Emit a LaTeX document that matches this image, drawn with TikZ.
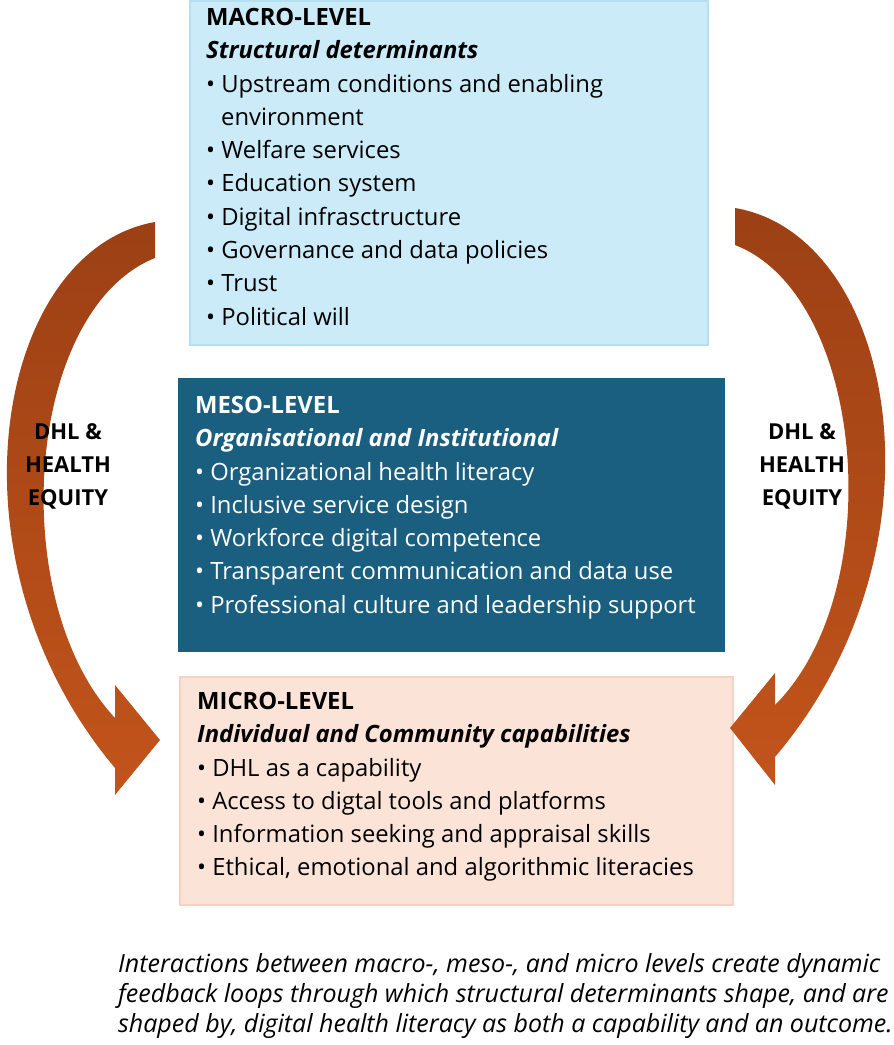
\documentclass[tikz,border=0pt]{standalone}
\usepackage{fontspec}
\setmainfont{Open Sans}
\definecolor{macrof}{HTML}{CBEBF8}
\definecolor{macrod}{HTML}{B5E0F2}
\definecolor{mesof}{HTML}{1A5F7F}
\definecolor{microf}{HTML}{FBE3D8}
\definecolor{microd}{HTML}{F6D2C2}
\definecolor{arrtop}{HTML}{9C4015}
\definecolor{arrbot}{HTML}{C2541B}
\begin{document}
\begin{tikzpicture}[x=1pt,y=-1pt,
  txt/.style={anchor=north west,align=left,inner sep=0pt,font=\fontsize{23.8}{33.3}\selectfont},
  lab/.style={align=center,font=\bfseries\fontsize{22}{33}\selectfont},
  band/.style={top color=arrtop,bottom color=arrbot,draw=none}]
\useasboundingbox (0,0) rectangle (894,1045);
\fill[macrof,draw=macrod,line width=1.5pt] (190,1) rectangle (708,345);
\fill[mesof] (178,378) rectangle (725,652);
\fill[microf,draw=microd,line width=1.5pt] (180,677) rectangle (733,905);
\node[txt] (macro) at (206,8) {\textbf{MACRO-LEVEL}\\
\textbf{\textit{Structural determinants}}\\
\textbullet\ Upstream conditions and enabling\\
\hspace*{15pt}environment\\
\textbullet\ Welfare services\\
\textbullet\ Education system\\
\textbullet\ Digital infrasctructure\\
\textbullet\ Governance and data policies\\
\textbullet\ Trust\\
\textbullet\ Political will};
\node[txt,text=white] (meso) at (195,396) {\textbf{MESO-LEVEL}\\
\textbf{\textit{Organisational and Institutional}}\\
\textbullet\ Organizational health literacy\\
\textbullet\ Inclusive service design\\
\textbullet\ Workforce digital competence\\
\textbullet\ Transparent communication and data use\\
\textbullet\ Professional culture and leadership support};
\node[txt] (micro) at (197,692) {\textbf{MICRO-LEVEL}\\
\textbf{\textit{Individual and Community capabilities}}\\
\textbullet\ DHL as a capability\\
\textbullet\ Access to digtal tools and platforms\\
\textbullet\ Information seeking and appraisal skills\\
\textbullet\ Ethical, emotional and algorithmic literacies};
% left arrow
\path[band] (155,222) .. controls (-5,250) and (-60,560) .. (115,768)
  -- (115,795) -- (160,740) -- (115,685) -- (115,718)
  .. controls (5,600) and (25,310) .. (155,258) -- cycle;
% right arrow
\path[band] (735,208) .. controls (895,235) and (955,545) .. (775,757)
  -- (775,785) -- (730,728) -- (775,673) -- (775,705)
  .. controls (890,590) and (865,295) .. (735,245) -- cycle;
\node[lab] (dl) at (68,466) {DHL \&\\HEALTH\\EQUITY};
\node[lab] (dr) at (802,466) {DHL \&\\HEALTH\\EQUITY};
\node[anchor=north east,align=left,inner sep=0pt,font=\itshape\fontsize{25}{30}\selectfont] (cap) at (893,953)
{Interactions between macro-, meso-, and micro levels create dynamic\\
feedback loops through which structural determinants shape, and are\\
shaped by, digital health literacy as both a capability and an outcome.};
\end{tikzpicture}
\end{document}
